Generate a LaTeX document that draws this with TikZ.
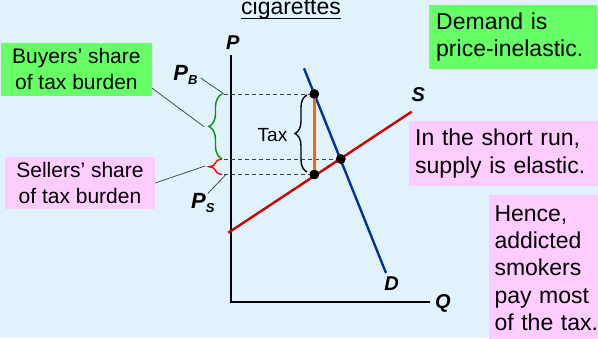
\documentclass[tikz,border=0pt]{standalone}
\usepackage{fontspec}
\setmainfont{Liberation Sans}
\usetikzlibrary{positioning, decorations.pathreplacing, calc}
\definecolor{SlideBlue}{RGB}{224,243,253}
\definecolor{NoteGreen}{RGB}{102,255,102}
\definecolor{NotePink}{RGB}{255,204,255}
\definecolor{SupplyRed}{RGB}{204,0,0}
\definecolor{DemandBlue}{RGB}{0,51,153}
\definecolor{TaxOrange}{RGB}{255,102,0}
\definecolor{BraceGreen}{RGB}{0,153,0}
\definecolor{BraceRed}{RGB}{255,0,0}
\newcommand{\ulword}[1]{\setbox0\hbox{#1}\rlap{\rule[-4.2pt]{\wd0}{1.3pt}}\box0}
\newcommand{\subletter}[1]{\raisebox{-4pt}{\fontsize{13}{13}\selectfont #1}}

\begin{document}
\begin{tikzpicture}[x=1pt, y=1pt,
      share/.style={rectangle, inner sep=0pt, minimum width=151pt, minimum height=53pt,
                    font=\fontsize{21}{26}\selectfont, align=center},
      note/.style={rectangle, anchor=north west, inner ysep=0pt,
                   font=\fontsize{23}{27.3}\selectfont, align=left},
      axislab/.style={font=\fontsize{20}{24}\selectfont\bfseries\itshape, inner sep=0pt},
      pricelab/.style={font=\fontsize{22}{24}\selectfont\bfseries\itshape, inner sep=1pt},
      curve/.style={line width=2.4pt},
      guide/.style={dashed, dash pattern=on 4pt off 3pt, black!75, line width=0.9pt},
      leader/.style={black!70, line width=0.8pt},
      brace/.style={decorate, decoration={brace, amplitude=13pt}, line width=1.4pt},
      dot/.style={circle, fill=black, inner sep=0pt, minimum size=9.5pt}
    ]
    \useasboundingbox (0,0) rectangle (598,338);
    \fill[SlideBlue] (0,0) rectangle (598,338);

    % Title (cut at the top)
    \node[font=\fontsize{23}{27}\selectfont, anchor=base] (title) at (291,323) {\ulword{cigarettes}};

    % Axes
    \coordinate (origin) at (231,36);
    \coordinate (ptop) at (231,283);
    \coordinate (qend) at (430,36);
    \draw[line width=1.3pt] (ptop) -- (origin) -- (qend);
    \node[axislab] (plab) at (232.7,295) {P};
    \node[axislab] (qlab) at (443,35) {Q};

    % Supply and demand
    \coordinate (slo) at (228.3,105.3);
    \coordinate (shi) at (411.7,226.3);
    \coordinate (dhi) at (304,269.7);
    \coordinate (dlo) at (386,65);
    \draw[curve, SupplyRed] (slo) -- (shi);
    \draw[curve, DemandBlue] (dhi) -- (dlo);
    \node[axislab] (slab) at (418.3,243.3) {S};
    \node[axislab] (dlab) at (391.7,54.7) {D};

    % Prices with the tax
    \node[dot] (pb) at (314.3,244) {};
    \node[dot] (eq) at (340.8,179) {};
    \node[dot] (ps) at (314.3,163.5) {};
    \coordinate (dl) at (224,0);
    \draw[guide] (dl |- pb) -- (pb.center);
    \draw[guide] (dl |- eq) -- (eq.center);
    \draw[guide] (dl |- ps) -- (ps.center);
    \draw[line width=2.4pt, TaxOrange] (pb.center) -- (ps.center);
    \node[dot] at (pb) {};
    \node[dot] at (eq) {};
    \node[dot] at (ps) {};

    % Braces
    \coordinate (bx) at (222,0);
    \coordinate (tx) at (307,0);
    \draw[brace, BraceGreen] (bx |- eq) -- (bx |- pb);
    \draw[brace, BraceRed] (bx |- ps) -- (bx |- eq);
    \draw[brace, decoration={amplitude=12pt}] ($(tx |- ps)+(0,2.5)$) -- ($(tx |- pb)+(0,-1)$);
    \node[font=\fontsize{19}{23}\selectfont] (taxlab) at (272.5,203.3) {Tax};

    % Price labels
    \node[pricelab] (pblab) at (185.5,263) {P\subletter{B}};
    \node[pricelab] (pslab) at (202.8,134.7) {P\subletter{S}};
    \draw[leader] (pblab.east) ++(2,-3) coordinate (pbfoot) -- (dl |- pb);
    \draw[leader] (pslab.north) ++(5,-1) coordinate (psfoot) -- ($(dl |- ps)+(2,0)$);

    % Shares of the burden
    \node[share, fill=NoteGreen] (buyers) at (76.4,268.7) {Buyers’ share\\of tax burden};
    \node[share, fill=NotePink, minimum width=150pt, minimum height=52.6pt] (sellers) at (80,155)
          {Sellers’ share\\of tax burden};
    \coordinate (gtip) at (204,211.3);
    \coordinate (rtip) at (205,172);
    \draw[leader] (buyers.-14) -- (gtip);
    \draw[leader] (sellers.east) -- (rtip);

    % Notes on the right
    \node[note, fill=NoteGreen, inner xsep=7pt, text width=153.7pt, minimum height=64pt] (inelastic)
          at (429,333) {Demand is\\price-inelastic.};
    \node[note, fill=NotePink, inner xsep=6.7pt, text width=176.3pt, minimum height=64.7pt] (shortrun)
          at (408.3,217) {In the short run,\\supply is elastic.};
    \node[note, fill=NotePink, inner xsep=6pt, text width=106pt, minimum height=146pt] (hence)
          at (488.3,143) {Hence,\\addicted\\smokers\\pay most\\of the tax.};
  \end{tikzpicture}
\end{document}
